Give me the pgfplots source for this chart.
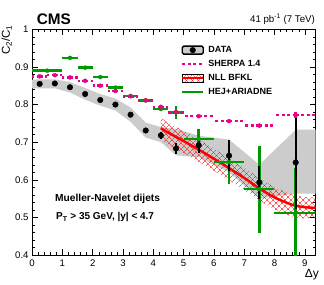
\documentclass[border=0pt]{standalone}
\usepackage{pgfplots}
\pgfplotsset{compat=1.18}
\usetikzlibrary{patterns.meta}
\usepackage{fontspec}
\setmainfont{Liberation Sans}
\definecolor{rootgreen}{RGB}{0,153,0}
\definecolor{bandgray}{RGB}{204,204,204}
\tikzset{
  hatchA/.style={pattern={Lines[angle=45,distance=4pt,line width=0.45pt]},pattern color=red},
  hatchB/.style={pattern={Lines[angle=-45,distance=4pt,line width=0.45pt]},pattern color=red}
}
\begin{document}
\begin{tikzpicture}
\begin{axis}[
  scale only axis, width=283.6pt, height=225.7pt,
  xmin=0, xmax=9.36, ymin=0.4, ymax=1,
  xtick={0,1,2,3,4,5,6,7,8,9},
  ytick={0.4,0.5,0.6,0.7,0.8,0.9,1},
  minor x tick num=4, minor y tick num=4,
  tick align=inside, tick pos=both,
  major tick length=6pt, minor tick length=3pt,
  tick style={black, line width=0.4pt},
  axis line style={line width=0.7pt},
  ticklabel style={font=\fontsize{9.6}{11}\selectfont},
  /pgf/number format/assume math mode=true,
  yticklabel style={/pgf/number format/fixed, /pgf/number format/precision=1},
  xticklabel style={yshift=-1.5pt},
  clip=true,
  legend style={draw=none, fill=none, at={(0.525,0.930)}, anchor=north west,
    inner sep=0pt, outer sep=0pt, row sep=4pt,
    font=\bfseries\fontsize{9}{10}\selectfont,
    nodes={inner sep=0pt, outer sep=0pt, text height=7pt, text depth=3pt},
    /tikz/every odd column/.append style={column sep=4pt}},
  legend cell align=left,
]
\addlegendimage{legend image code/.code={\draw[fill=bandgray, draw=black, line width=1.3pt, rounded corners=1.5pt] (0pt,-4pt) rectangle (21pt,4pt); \fill[black] (10.5pt,0pt) circle (2.8pt);}}
\addlegendentry{DATA}
\addlegendimage{legend image code/.code={\draw[magenta, line width=2.5pt, dash pattern=on 3pt off 2.5pt] (0pt,0pt) -- (21pt,0pt);}}
\addlegendentry{SHERPA 1.4}
\addlegendimage{legend image code/.code={\fill[hatchA] (0pt,-4pt) rectangle (21pt,4pt); \fill[hatchB] (0pt,-4pt) rectangle (21pt,4pt); \draw[red, line width=2.5pt] (0pt,0pt) -- (21pt,0pt);}}
\addlegendentry{NLL BFKL}
\addlegendimage{legend image code/.code={\draw[rootgreen, line width=2.5pt] (0pt,0pt) -- (21pt,0pt);}}
\addlegendentry{HEJ+ARIADNE}

% systematic band (data)
\addplot[fill=bandgray, draw=none, forget plot] coordinates {
 (0,0.866) (0.25,0.867) (0.75,0.867) (1.25,0.860) (1.75,0.844) (2.25,0.828)
 (2.75,0.816) (3.25,0.792) (3.75,0.752) (4.25,0.740) (4.75,0.735) (5.5,0.717)
 (6.5,0.707) (7.5,0.640) (8.7,0.733) (9.4,0.733)
 (9.4,0.563) (8.7,0.563) (7.5,0.550) (6.5,0.620) (5.5,0.660) (4.75,0.665)
 (4.25,0.700) (3.75,0.712) (3.25,0.754) (2.75,0.784) (2.25,0.797) (1.75,0.813)
 (1.25,0.832) (0.75,0.843) (0.25,0.843) (0,0.843) (0,0.866)
};

% NLL BFKL band
\addplot[hatchA, draw=none, forget plot] coordinates {
 (4.25,0.764) (4.5,0.752) (5.0,0.730) (5.5,0.707) (6.0,0.683) (6.5,0.658)
 (7.0,0.632) (7.5,0.604) (8.0,0.580) (8.5,0.563) (8.7,0.558) (9.0,0.554) (9.4,0.553)
 (9.4,0.500) (9.0,0.497) (8.7,0.499) (8.5,0.504) (8.0,0.521) (7.5,0.545) (7.0,0.573)
 (6.5,0.599) (6.0,0.624) (5.5,0.648) (5.0,0.671) (4.5,0.693) (4.25,0.705) (4.25,0.764)
};
\addplot[hatchB, draw=none, forget plot] coordinates {
 (4.25,0.764) (4.5,0.752) (5.0,0.730) (5.5,0.707) (6.0,0.683) (6.5,0.658)
 (7.0,0.632) (7.5,0.604) (8.0,0.580) (8.5,0.563) (8.7,0.558) (9.0,0.554) (9.4,0.553)
 (9.4,0.500) (9.0,0.497) (8.7,0.499) (8.5,0.504) (8.0,0.521) (7.5,0.545) (7.0,0.573)
 (6.5,0.599) (6.0,0.624) (5.5,0.648) (5.0,0.671) (4.5,0.693) (4.25,0.705) (4.25,0.764)
};
% NLL BFKL central
\addplot[red, line width=2.5pt, smooth, forget plot] coordinates {
 (4.25,0.737) (4.5,0.725) (5.0,0.703) (5.5,0.680) (6.0,0.656) (6.5,0.631)
 (7.0,0.605) (7.5,0.577) (8.0,0.553) (8.5,0.536) (8.7,0.531) (9.0,0.527) (9.4,0.525)
};

% HEJ+ARIADNE
\addplot[rootgreen, only marks, mark=none, forget plot,
  error bars/.cd, x dir=both, x explicit, y dir=both, y explicit, error mark=none,
  error bar style={rootgreen, line width=2.6pt}] coordinates {
 (0.5,0.890) +- (0.5,0.001)
 (1.25,0.924) +- (0.25,0.001)
 (1.75,0.898) +- (0.25,0.001)
 (2.25,0.873) +- (0.25,0.001)
 (2.75,0.845) +- (0.25,0.001)
 (3.25,0.823) +- (0.25,0.001)
 (3.75,0.811) +- (0.25,0.001)
 (4.25,0.788) +- (0.25,0.002)
 (4.75,0.779) +- (0.25,0.017)
 (5.5,0.708) +- (0.5,0.026)
 (6.5,0.647) +- (0.5,0.057)
 (7.5,0.575) +- (0.5,0.116)
 (8.7,0.512) +- (0.7,0.120)
};

% SHERPA 1.4
\addplot[magenta, only marks, mark=none, forget plot,
  error bars/.cd, x dir=both, x explicit, y dir=both, y explicit, error mark=none,
  error bar style={magenta, line width=2.5pt, dash pattern=on 3pt off 2.5pt}] coordinates {
 (0.25,0.875) +- (0.25,0.001)
 (0.75,0.878) +- (0.25,0.001)
 (1.25,0.872) +- (0.25,0.001)
 (1.75,0.863) +- (0.25,0.001)
 (2.25,0.850) +- (0.25,0.001)
 (2.75,0.836) +- (0.25,0.001)
 (3.25,0.822) +- (0.25,0.001)
 (3.75,0.811) +- (0.25,0.001)
 (4.25,0.794) +- (0.25,0.003)
 (4.75,0.780) +- (0.25,0.006)
 (5.5,0.769) +- (0.5,0.002)
 (6.5,0.756) +- (0.5,0.002)
 (7.5,0.744) +- (0.5,0.004)
 (8.7,0.772) +- (0.7,0.012)
};

% DATA
\addplot[black, only marks, mark=*, mark size=2.8pt, forget plot,
  error bars/.cd, y dir=both, y explicit, error mark=none,
  error bar style={black, line width=1.9pt}] coordinates {
 (0.25,0.855) +- (0,0.003)
 (0.75,0.856) +- (0,0.003)
 (1.25,0.846) +- (0,0.003)
 (1.75,0.828) +- (0,0.003)
 (2.25,0.812) +- (0,0.003)
 (2.75,0.800) +- (0,0.003)
 (3.25,0.773) +- (0,0.004)
 (3.75,0.731) +- (0,0.005)
 (4.25,0.718) +- (0,0.010)
 (4.75,0.683) +- (0,0.015)
 (5.5,0.692) +- (0,0.020)
 (6.5,0.664) +- (0,0.042)
 (7.5,0.593) +- (0,0.044)
 (8.7,0.646) += (0,0.119) -= (0,0.125)
};
\end{axis}
\node[anchor=base west, inner sep=0pt, font=\bfseries\fontsize{15.3}{16}\selectfont] at (4.6pt,230pt) {CMS};
\node[anchor=base east, inner sep=0pt, font=\fontsize{9.7}{11}\selectfont] at (283pt,232.5pt) {41 pb\textsuperscript{-1} (7 TeV)};
\node[rotate=90, anchor=base east, inner sep=0pt, font=\fontsize{11.5}{12}\selectfont] at (-22.1pt,230pt) {C\textsubscript{2}/C\textsubscript{1}};
\node[anchor=base east, inner sep=0pt, font=\fontsize{12}{13}\selectfont] at (286.9pt,-22.7pt) {Δy};
\node[anchor=base west, inner sep=0pt, font=\bfseries\fontsize{10.2}{11}\selectfont] at (22.9pt,53.3pt) {Mueller-Navelet dijets};
\node[anchor=base west, inner sep=0pt, font=\bfseries\fontsize{10}{11}\selectfont] at (23.9pt,35pt) {P\textsubscript{T} > 35 GeV, |y| < 4.7};
\pgfresetboundingbox
\path[use as bounding box] (-32.1pt,-29pt) rectangle (291.9pt,255pt);
\end{tikzpicture}
\end{document}
